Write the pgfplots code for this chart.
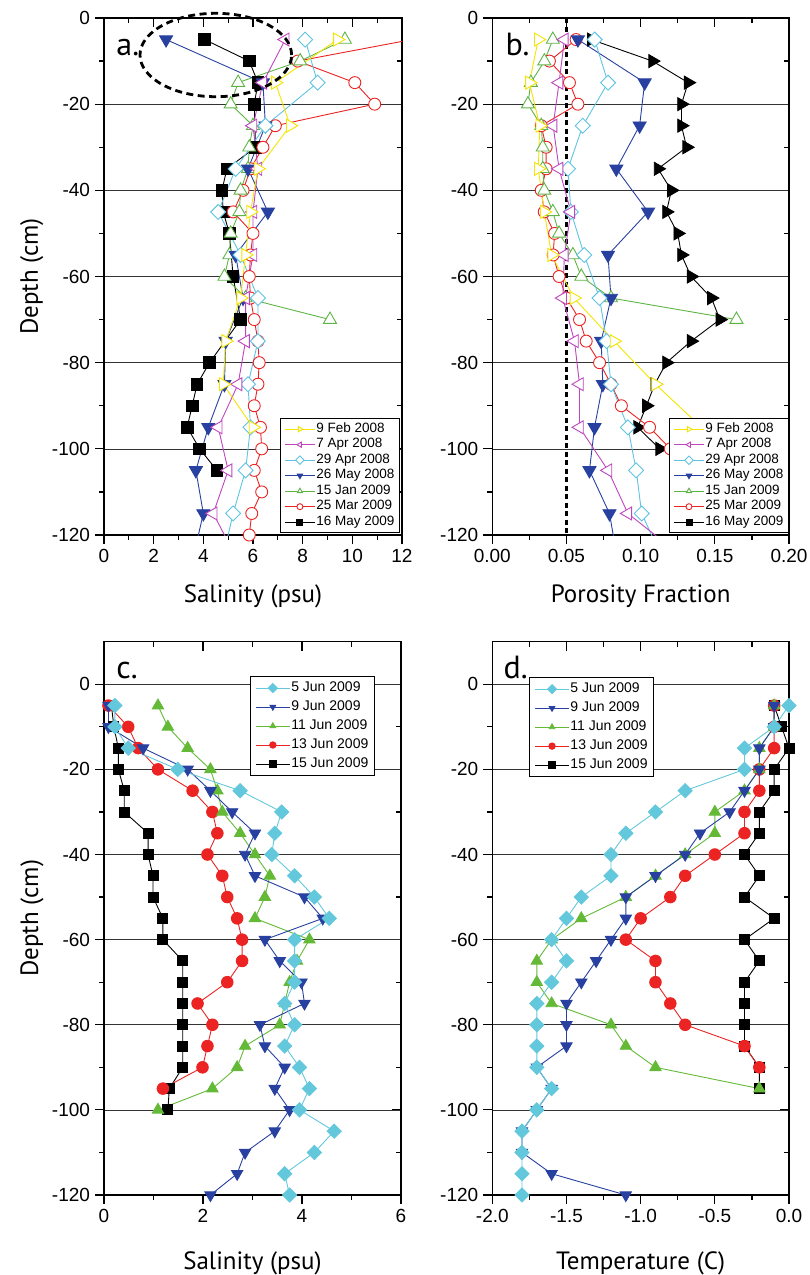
\documentclass[border=0pt]{standalone}
\usepackage{fontspec}
\setmainfont{Liberation Sans}
\newfontfamily\labfont{PT Sans}
\usepackage{pgfplots}
\pgfplotsset{compat=1.18}

\definecolor{cYel}{RGB}{245,228,0}
\definecolor{cMag}{RGB}{190,70,190}
\definecolor{cCya}{RGB}{95,195,225}
\definecolor{cBlu}{RGB}{40,65,160}
\definecolor{cGrn}{RGB}{95,180,70}
\definecolor{cRed}{RGB}{235,35,35}
\definecolor{cCyb}{RGB}{100,200,220}
\definecolor{cGrb}{RGB}{100,185,55}

\pgfplotsset{
  allax/.style={scale only axis, axis line style={line width=1.5pt},
    tick style={black, line width=1.2pt}, major tick length=9pt, minor tick length=5pt,
    tick label style={font=\fontsize{19}{21}\selectfont},
    /pgf/number format/assume math mode=true,
    xticklabel style={yshift=-2pt}, yticklabel style={xshift=-1.5pt},
    label style={font=\labfont\fontsize{25}{28}\selectfont},
    every axis plot/.append style={line width=0.9pt}},
  datax/.style={tick align=outside, xtick pos=left, ytick pos=left,
    ymajorgrids, grid style={black!80, line width=0.6pt}, reverse legend},
  over/.style={tick align=inside, xtick pos=right, ytick pos=right,
    xticklabels={}, yticklabels={}},
  ydep/.style={ymin=-120, ytick={-120,-100,...,0}, minor ytick={-110,-90,...,-10}},
  pa/.style={at={(104pt,-18pt)}, anchor=north west, width=298pt, height=517pt, ydep, ymax=0,
    xmin=0, xmax=12, xtick={0,2,...,12}, minor xtick={1,3,...,11},
    xlabel style={at={(axis description cs:0.5,-0.1315)}, anchor=base},
    ylabel style={at={(axis description cs:-0.2215,0.5)}, anchor=base}},
  pb/.style={at={(492.3pt,-18pt)}, anchor=north west, width=296.7pt, height=517pt, ydep, ymax=0,
    xmin=0, xmax=0.2, xtick={0,0.05,0.1,0.15,0.2}, minor xtick={0.025,0.075,0.125,0.175},
    xticklabel style={/pgf/number format/.cd, fixed, fixed zerofill, precision=2},
    xlabel style={at={(axis description cs:0.5,-0.1315)}, anchor=base}},
  pc/.style={at={(104pt,-641.7pt)}, anchor=north west, width=297pt, height=553.3pt, ydep, ymax=10,
    xmin=0, xmax=6, xtick={0,2,4,6}, minor xtick={1,3,5},
    xlabel style={at={(axis description cs:0.5,-0.1355)}, anchor=base},
    ylabel style={at={(axis description cs:-0.222,0.5)}, anchor=base}},
  pd/.style={at={(492.3pt,-641.7pt)}, anchor=north west, width=296.7pt, height=553.3pt, ydep, ymax=10,
    xmin=-2, xmax=0, xtick={-2,-1.5,-1,-0.5,0}, minor xtick={-1.75,-1.25,-0.75,-0.25},
    xticklabel style={/pgf/number format/.cd, fixed, fixed zerofill, precision=1},
    xlabel style={at={(axis description cs:0.5,-0.1355)}, anchor=base}},
  legAB/.style={legend image code/.code={\draw[mark repeat=2,mark phase=2,mark size=3pt]
      plot coordinates {(0pt,0pt) (15pt,0pt) (30pt,0pt)};},
    legend style={draw=black, line width=1pt, font=\fontsize{13.5}{15}\selectfont,
      nodes={inner sep=1pt, text height=9.5pt, text depth=3pt}, row sep=1pt,
      inner xsep=4pt, inner ysep=3pt, cells={anchor=west}}},
  legCD/.style={legend image code/.code={\draw[mark repeat=2,mark phase=2,mark size=3.2pt]
      plot coordinates {(0pt,0pt) (17pt,0pt) (34pt,0pt)};},
    legend style={draw=black, line width=1pt, font=\fontsize{14}{16}\selectfont,
      nodes={inner sep=1pt, text height=10pt, text depth=3pt}, row sep=4pt,
      inner xsep=5pt, inner ysep=4pt, cells={anchor=west}}},
  sYel/.style={cYel, mark=triangle*, mark size=7.5pt, mark options={rotate=-90, fill=white}},
  sMag/.style={cMag, mark=triangle*, mark size=7.5pt, mark options={rotate=90, fill=white}},
  sCya/.style={cCya, mark=square*, mark size=5.3pt, mark options={rotate=45, fill=white}},
  sBlu/.style={cBlu, mark=triangle*, mark size=7.5pt, mark options={rotate=180}},
  sGrn/.style={cGrn, mark=triangle*, mark size=7.5pt, mark options={fill=white}},
  sRed/.style={cRed, mark=*, mark size=6pt, mark options={fill=white}},
  sBlk/.style={black, mark=square*, mark size=5.8pt},
  tCya/.style={cCyb, mark=square*, mark size=5pt, mark options={rotate=45}},
  tBlu/.style={cBlu, mark=triangle*, mark size=6.5pt, mark options={rotate=180}},
  tGrn/.style={cGrb, mark=triangle*, mark size=6.5pt},
  tRed/.style={cRed, mark=*, mark size=5.8pt},
  tBlk/.style={black, mark=square*, mark size=5pt},
}

\begin{document}
\begin{tikzpicture}
\useasboundingbox (0pt,0pt) rectangle (809pt,-1275pt);

% a. salinity 2008-2009
\begin{axis}[allax, pa, over]\end{axis}
\begin{axis}[allax, pa, datax, legAB, xlabel={Salinity (psu)}, ylabel={Depth (cm)},
  legend style={at={(0.993,0.004)}, anchor=south east}]
\addplot[sBlk] coordinates {(4.05,-5) (5.85,-10) (6.2,-15) (6.05,-20) (6.1,-30) (4.95,-35) (4.75,-40) (4.8,-45) (5.05,-50) (5.2,-60) (5.5,-70) (4.25,-80) (3.75,-85) (3.55,-90) (3.35,-95) (3.85,-100) (4.55,-105)};
\addlegendentry{16 May 2009}
\addplot[sRed] coordinates {(12.4,-5) (7.8,-10) (10.1,-15) (10.9,-20) (6.9,-25) (6.4,-30) (5.9,-35) (5.6,-40) (5.2,-45) (6.0,-50) (5.9,-55) (5.85,-60) (5.9,-65) (6.05,-70) (6.2,-75) (6.25,-80) (6.2,-85) (6.05,-90) (6.3,-95) (6.35,-100) (6.05,-105) (6.35,-110) (5.95,-115) (5.85,-120)};
\addlegendentry{25 Mar 2009}
\addplot[sGrn] coordinates {(9.7,-5) (7.9,-10) (5.4,-15) (5.1,-20) (6.0,-25) (5.85,-30) (5.8,-35) (5.5,-40) (5.45,-45) (5.1,-50) (5.05,-55) (4.85,-60) (5.7,-65) (9.1,-70)};
\addlegendentry{15 Jan 2009}
\addplot[sBlu] coordinates {(2.5,-5) (6.4,-15) (6.5,-25) (5.8,-35) (6.6,-45) (5.3,-55) (5.6,-65) (4.9,-75) (4.85,-85) (4.2,-95) (3.7,-105) (4.0,-115) (3.6,-125)};
\addlegendentry{26 May 2008}
\addplot[sCya] coordinates {(8.1,-5) (8.6,-15) (6.5,-25) (5.3,-35) (4.6,-45) (5.5,-55) (6.2,-65) (6.2,-75) (5.8,-85) (5.9,-95) (5.7,-105) (5.2,-115) (4.8,-125)};
\addlegendentry{29 Apr 2008}
\addplot[sMag] coordinates {(7.3,-5) (6.4,-15) (6.0,-25) (6.2,-35) (6.0,-45) (6.0,-55) (5.7,-65) (5.7,-75) (5.4,-85) (4.6,-95) (5.0,-105) (4.4,-115) (5.3,-125)};
\addlegendentry{7 Apr 2008}
\addplot[sYel] coordinates {(9.4,-5) (6.9,-15) (7.5,-25) (6.2,-35) (5.9,-45) (5.7,-55) (5.5,-65) (4.9,-75) (4.8,-85) (6.0,-95)};
\addlegendentry{9 Feb 2008}
\node[anchor=base west, font=\labfont\fontsize{32}{32}\selectfont] at (axis description cs:0.03,0.928) {a.};
\end{axis}
\draw[line width=2.8pt, dash pattern=on 7pt off 4.5pt] (215.8pt,-55pt) ellipse [x radius=75.8pt, y radius=41.7pt];

% b. porosity
\begin{axis}[allax, pb, over]\end{axis}
\begin{axis}[allax, pb, datax, legAB, xlabel={Porosity Fraction},
  legend style={at={(1,0.004)}, anchor=south east}]
\addplot[forget plot, black, line width=3.2pt, dash pattern=on 5pt off 3.5pt] coordinates {(0.05,0) (0.05,-120)};
\addplot[forget plot, black, mark=triangle*, mark size=7.5pt, mark options={rotate=-90}] coordinates {(0.0667,-5) (0.108,-10) (0.132,-15) (0.1275,-20) (0.1275,-25) (0.131,-30) (0.1117,-35) (0.1207,-40) (0.1174,-45) (0.125,-50) (0.1275,-55) (0.134,-60) (0.1477,-65) (0.1534,-70) (0.134,-75) (0.1174,-80) (0.1095,-85) (0.1039,-90) (0.098,-95) (0.1128,-100)};
\addlegendimage{sBlk}
\addlegendentry{16 May 2009}
\addplot[sRed] coordinates {(0.0565,-5) (0.0385,-10) (0.052,-15) (0.0577,-20) (0.033,-25) (0.0363,-30) (0.0363,-35) (0.033,-40) (0.035,-45) (0.042,-50) (0.041,-55) (0.045,-60) (0.050,-65) (0.0588,-70) (0.0633,-75) (0.0723,-80) (0.080,-85) (0.087,-90) (0.106,-95) (0.12,-100)};
\addlegendentry{25 Mar 2009}
\addplot[sGrn] coordinates {(0.0408,-5) (0.0351,-10) (0.026,-15) (0.024,-20) (0.033,-25) (0.034,-30) (0.034,-35) (0.035,-40) (0.0408,-45) (0.045,-50) (0.0543,-55) (0.060,-60) (0.080,-65) (0.1646,-70)};
\addlegendentry{15 Jan 2009}
\addplot[sBlu] coordinates {(0.0577,-5) (0.1027,-15) (0.0993,-25) (0.0836,-35) (0.105,-45) (0.078,-55) (0.080,-65) (0.0734,-75) (0.0745,-85) (0.0689,-95) (0.0655,-105) (0.079,-115) (0.084,-125)};
\addlegendentry{26 May 2008}
\addplot[sCya] coordinates {(0.069,-5) (0.078,-15) (0.061,-25) (0.051,-35) (0.053,-45) (0.062,-55) (0.0723,-65) (0.077,-75) (0.080,-85) (0.0914,-95) (0.097,-105) (0.1007,-115) (0.114,-125)};
\addlegendentry{29 Apr 2008}
\addplot[sMag] coordinates {(0.0486,-5) (0.045,-15) (0.041,-25) (0.045,-35) (0.053,-45) (0.0486,-55) (0.0475,-65) (0.0554,-75) (0.0588,-85) (0.0588,-95) (0.078,-105) (0.0914,-115) (0.128,-125)};
\addlegendentry{7 Apr 2008}
\addplot[sYel] coordinates {(0.031,-5) (0.025,-15) (0.032,-25) (0.031,-35) (0.035,-45) (0.040,-55) (0.055,-65) (0.082,-75) (0.110,-85) (0.141,-95)};
\addlegendentry{9 Feb 2008}
\node[anchor=base west, font=\labfont\fontsize{32}{32}\selectfont] at (axis description cs:0.033,0.928) {b.};
\end{axis}

% c. salinity June 2009
\begin{axis}[allax, pc, over]\end{axis}
\begin{axis}[allax, pc, datax, legCD, xlabel={Salinity (psu)}, ylabel={Depth (cm)},
  legend style={at={(0.912,0.938)}, anchor=north east}]
\addplot[tBlk] coordinates {(0.15,-5) (0.2,-10) (0.29,-15) (0.29,-20) (0.41,-25) (0.41,-30) (0.89,-35) (0.89,-40) (0.99,-45) (0.99,-50) (1.19,-55) (1.19,-60) (1.59,-65) (1.59,-70) (1.59,-75) (1.59,-80) (1.59,-85) (1.59,-90) (1.32,-95) (1.29,-100)};
\addlegendentry{15 Jun 2009}
\addplot[tRed] coordinates {(0.09,-5) (0.49,-10) (0.69,-15) (1.09,-20) (1.79,-25) (2.19,-30) (2.29,-35) (2.09,-40) (2.39,-45) (2.49,-50) (2.69,-55) (2.79,-60) (2.79,-65) (2.49,-70) (1.89,-75) (2.19,-80) (2.09,-85) (1.99,-90) (1.19,-95)};
\addlegendentry{13 Jun 2009}
\addplot[tGrn] coordinates {(1.09,-5) (1.29,-10) (1.69,-15) (2.15,-20) (2.29,-25) (2.39,-30) (2.75,-35) (3.05,-40) (3.35,-45) (3.25,-50) (3.05,-55) (4.15,-60) (3.9,-65) (3.75,-70) (3.65,-75) (3.55,-80) (2.85,-85) (2.69,-90) (2.19,-95) (1.09,-100)};
\addlegendentry{11 Jun 2009}
\addplot[tBlu] coordinates {(0.09,-5) (0.09,-10) (0.79,-15) (1.69,-20) (2.15,-25) (2.59,-30) (3.05,-35) (2.85,-40) (3.05,-45) (4.05,-50) (4.42,-55) (3.25,-60) (3.55,-65) (3.99,-70) (4.05,-75) (3.15,-80) (3.25,-85) (3.65,-90) (3.45,-95) (3.75,-100) (3.45,-105) (2.85,-110) (2.69,-115) (2.15,-120)};
\addlegendentry{9 Jun 2009}
\addplot[tCya] coordinates {(0.22,-5) (0.22,-10) (0.49,-15) (1.49,-20) (2.75,-25) (3.59,-30) (3.45,-35) (3.39,-40) (3.85,-45) (4.25,-50) (4.55,-55) (3.85,-60) (3.85,-65) (3.85,-70) (3.65,-75) (3.85,-80) (3.65,-85) (3.95,-90) (4.15,-95) (3.95,-100) (4.65,-105) (4.25,-110) (3.65,-115) (3.75,-120)};
\addlegendentry{5 Jun 2009}
\node[anchor=base west, font=\labfont\fontsize{32}{32}\selectfont] at (axis description cs:0.03,0.934) {c.};
\end{axis}

% d. temperature June 2009
\begin{axis}[allax, pd, over]\end{axis}
\begin{axis}[allax, pd, datax, legCD, xlabel={Temperature (C)},
  legend style={at={(0.124,0.936)}, anchor=north west}]
\addplot[tBlk] coordinates {(-0.1,-5) (-0.05,-10) (0.0,-15) (-0.1,-20) (-0.1,-25) (-0.2,-30) (-0.2,-35) (-0.3,-40) (-0.2,-45) (-0.3,-50) (-0.1,-55) (-0.3,-60) (-0.2,-65) (-0.3,-70) (-0.3,-75) (-0.3,-80) (-0.3,-85) (-0.2,-90) (-0.2,-95)};
\addlegendentry{15 Jun 2009}
\addplot[tRed] coordinates {(-0.1,-5) (-0.1,-10) (-0.1,-15) (-0.2,-20) (-0.2,-25) (-0.3,-30) (-0.3,-35) (-0.5,-40) (-0.7,-45) (-0.8,-50) (-1.0,-55) (-1.1,-60) (-0.9,-65) (-0.9,-70) (-0.8,-75) (-0.7,-80) (-0.3,-85) (-0.2,-90)};
\addlegendentry{13 Jun 2009}
\addplot[tGrn] coordinates {(-0.1,-5) (-0.1,-10) (-0.2,-15) (-0.2,-20) (-0.3,-25) (-0.5,-30) (-0.5,-35) (-0.7,-40) (-0.9,-45) (-1.1,-50) (-1.4,-55) (-1.6,-60) (-1.7,-65) (-1.7,-70) (-1.6,-75) (-1.2,-80) (-1.1,-85) (-0.9,-90) (-0.2,-95)};
\addlegendentry{11 Jun 2009}
\addplot[tBlu] coordinates {(-0.1,-5) (-0.1,-10) (-0.2,-15) (-0.2,-20) (-0.3,-25) (-0.4,-30) (-0.6,-35) (-0.7,-40) (-0.9,-45) (-1.1,-50) (-1.1,-55) (-1.2,-60) (-1.3,-65) (-1.4,-70) (-1.5,-75) (-1.5,-80) (-1.5,-85) (-1.7,-90) (-1.6,-95) (-1.7,-100) (-1.8,-105) (-1.8,-110) (-1.6,-115) (-1.1,-120)};
\addlegendentry{9 Jun 2009}
\addplot[tCya] coordinates {(0.0,-5) (-0.1,-10) (-0.3,-15) (-0.3,-20) (-0.7,-25) (-0.9,-30) (-1.1,-35) (-1.2,-40) (-1.2,-45) (-1.4,-50) (-1.5,-55) (-1.6,-60) (-1.5,-65) (-1.6,-70) (-1.7,-75) (-1.7,-80) (-1.7,-85) (-1.7,-90) (-1.6,-95) (-1.7,-100) (-1.8,-105) (-1.8,-110) (-1.8,-115) (-1.8,-120)};
\addlegendentry{5 Jun 2009}
\node[anchor=base west, font=\labfont\fontsize{32}{32}\selectfont] at (axis description cs:0.026,0.934) {d.};
\end{axis}
\end{tikzpicture}
\end{document}
